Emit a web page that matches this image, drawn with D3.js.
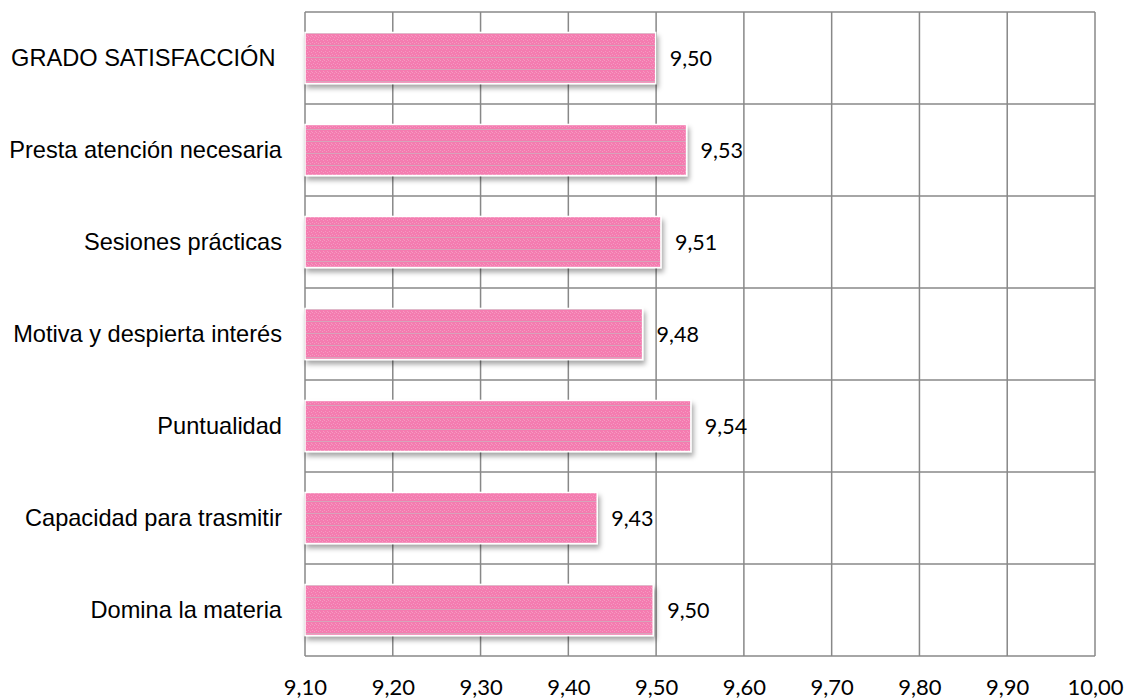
<!DOCTYPE html>
<html>
<head>
<meta charset="utf-8">
<script src="https://cdn.jsdelivr.net/npm/d3@7/dist/d3.min.js"></script>
<style>
  html, body { margin: 0; padding: 0; background: #fff; }
  svg { display: block; }
</style>
</head>
<body>
<svg id="chart" width="1126" height="700"></svg>
<script>
// ---- data ----
const categories = [
  "GRADO SATISFACCIÓN",
  "Presta atención necesaria",
  "Sesiones prácticas",
  "Motiva y despierta interés",
  "Puntualidad",
  "Capacidad para trasmitir",
  "Domina la materia"
];
const values = [9.4995, 9.5347, 9.5055, 9.4846, 9.5396, 9.4329, 9.4967];
const valueLabels = ["9,50", "9,53", "9,51", "9,48", "9,54", "9,43", "9,50"];
const tickValues = [9.1, 9.2, 9.3, 9.4, 9.5, 9.6, 9.7, 9.8, 9.9, 10.0];
const tickLabels = ["9,10", "9,20", "9,30", "9,40", "9,50", "9,60", "9,70", "9,80", "9,90", "10,00"];

// ---- layout ----
const mLeft = 305, mRight = 1095, mTop = 12, mBottom = 656;
const svg = d3.select("#chart");

const x = d3.scaleLinear().domain([9.1, 10.0]).range([mLeft, mRight]);
const y = d3.scaleBand().domain(categories).range([mTop, mBottom])
  .paddingInner(0.445).paddingOuter(0.2225);

const defs = svg.append("defs");
const pat = defs.append("pattern")
  .attr("id", "pinkTex").attr("patternUnits", "userSpaceOnUse")
  .attr("width", 4).attr("height", 12);
pat.append("rect").attr("width", 4).attr("height", 12).attr("fill", "#F47CB0");
[[0,0],[2,1],[1,3],[3,4],[0,6],[2,7],[1,9],[3,11]].forEach(([px,py]) => {
  pat.append("rect").attr("x", px).attr("y", py).attr("width", 1).attr("height", 1).attr("fill", "#F699C1");
});
pat.append("rect").attr("x", 0).attr("y", 9).attr("width", 4).attr("height", 1).attr("fill", "#D7A4BA");

const f = defs.append("filter").attr("id", "shadow")
  .attr("x", "-5%").attr("y", "-20%").attr("width", "115%").attr("height", "160%");
f.append("feDropShadow").attr("dx", 2).attr("dy", 4).attr("stdDeviation", 2.5)
  .attr("flood-color", "#000").attr("flood-opacity", 0.35);

// ---- gridlines ----
const grid = svg.append("g");
grid.selectAll("line.v").data(tickValues).join("line")
  .attr("class", "v")
  .attr("x1", d => x(d)).attr("x2", d => x(d))
  .attr("y1", mTop).attr("y2", mBottom)
  .attr("stroke", "#888").attr("stroke-width", 1.5);
const hb = categories.map((c, i) => i === 0 ? mTop : y(c) - y.step() * y.paddingInner() / 2);
hb.push(mBottom);
grid.selectAll("line.h").data(hb).join("line")
  .attr("class", "h")
  .attr("x1", mLeft).attr("x2", mRight)
  .attr("y1", d => d).attr("y2", d => d)
  .attr("stroke", "#888").attr("stroke-width", 1.5);

// ---- bars ----
svg.append("g").selectAll("rect").data(values).join("rect")
  .attr("x", x(9.1))
  .attr("y", (d, i) => y(categories[i]))
  .attr("width", d => x(d) - x(9.1))
  .attr("height", y.bandwidth())
  .attr("fill", "url(#pinkTex)")
  .attr("stroke", "#fff").attr("stroke-width", 1.5)
  .attr("filter", "url(#shadow)");

// ---- value labels ----
svg.append("g").selectAll("text").data(values).join("text")
  .attr("x", d => x(d) + 14)
  .attr("y", (d, i) => y(categories[i]) + y.bandwidth() / 2)
  .attr("dy", "0.36em")
  .attr("font-family", "Lato, 'Open Sans', sans-serif")
  .attr("font-size", 21.5)
  .attr("fill", "#000")
  .text((d, i) => valueLabels[i]);

// ---- category labels ----
svg.append("g").selectAll("text").data(categories).join("text")
  .attr("x", 282)
  .attr("y", d => y(d) + y.bandwidth() / 2)
  .attr("dy", "0.36em")
  .attr("text-anchor", "end")
  .attr("font-family", "'Liberation Sans', Arial, sans-serif")
  .attr("font-size", 23.6)
  .attr("fill", "#000")
  .text(d => d === "GRADO SATISFACCIÓN" ? d + "\u00A0" : d);

// ---- x axis ----
const xAxis = d3.axisBottom(x).tickValues(tickValues).tickSize(0).tickPadding(23)
  .tickFormat((d, i) => tickLabels[i]);
const ax = svg.append("g").attr("transform", `translate(0,${mBottom})`).call(xAxis);
ax.select(".domain").remove();
ax.selectAll("text").attr("font-family", "Lato, 'Open Sans', sans-serif")
  .attr("font-size", 22).attr("fill", "#000");
</script>
</body>
</html>
